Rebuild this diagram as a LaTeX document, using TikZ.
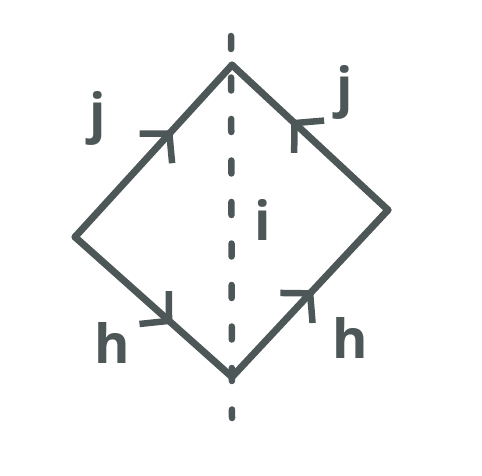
\documentclass[tikz,border=0pt]{standalone}
\usepackage{fontspec}
\setsansfont{Open Sans}
\usetikzlibrary{arrows.meta, decorations.markings}
\definecolor{ink}{HTML}{4D5757}

\begin{document}
\begin{tikzpicture}[x=1pt, y=-1pt,
  edge/.style={ink, line width=7pt, line cap=round},
  mid arrow/.style={postaction={decorate}, decoration={markings,
      mark=at position #1 with {\arrow{Straight Barb[length=20pt,width=44pt,line width=6.5pt]}}}},
  cut/.style={ink, line width=6.5pt, line cap=round, dash pattern=on 13pt off 28.5pt},
  lbl/.style={ink, font=\sffamily\bfseries\fontsize{54}{60}\selectfont}]
   \useasboundingbox (0,0) rectangle (482,476); % keep the page size
   % corners of the diamond
   \coordinate (top) at (232,65);
   \coordinate (left) at (75,237);
   \coordinate (bottom) at (232,377);
   \coordinate (right) at (388,210);
   \coordinate (cuttop) at (231,36);
   \coordinate (cutbot) at (232,418);
   \draw[cut] (cuttop) -- (cutbot); % dashed cut through the middle
   \draw[edge, mid arrow=0.62] (left) -- (top);
   \draw[edge, mid arrow=0.62] (right) -- (top);
   \draw[edge, mid arrow=0.62] (left) -- (bottom);
   \draw[edge, mid arrow=0.52] (bottom) -- (right);
   % edge labels
   \node[lbl] (jleft) at (98,118) {j};
   \node[lbl] (jright) at (345,92) {j};
   \node[lbl] (imid) at (263,220) {i};
   \node[lbl] (hleft) at (112,343) {h};
   \node[lbl] (hright) at (350,338) {h};
\end{tikzpicture}
\end{document}
